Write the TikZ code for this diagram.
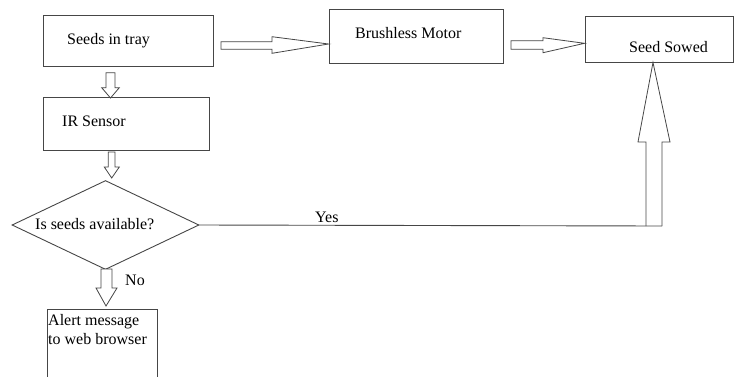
\documentclass[tikz,border=0pt]{standalone}
\usepackage{fontspec}
\setmainfont{Liberation Serif}
\usetikzlibrary{shapes.geometric,calc}
\definecolor{lc}{RGB}{70,70,70}
\begin{document}
\begin{tikzpicture}[x=1pt,y=-1pt,
  box/.style={draw=lc,line width=0.9pt,rectangle,inner sep=0pt},
  txt/.style={inner sep=0pt,anchor=west,font=\fontsize{16}{19}\selectfont,text=black},
  barrow/.style={draw=lc,line width=0.8pt,fill=white,line join=miter},
  conn/.style={draw=lc,line width=0.9pt}]
\useasboundingbox (0,0) rectangle (734,376);
\clip (0,0) rectangle (734,376);
% boxes
\node[box,minimum width=170pt,minimum height=51pt] (seeds) at (128,40.5) {};
\node[box,minimum width=166pt,minimum height=53pt] (ir) at (126,123.5) {};
\node[box,minimum width=174pt,minimum height=54pt] (motor) at (416,36) {};
\node[box,minimum width=148pt,minimum height=46pt] (sowed) at (659,39) {};
\node[box,minimum width=110pt,minimum height=81pt] (alert) at (102,349.5) {};
\node[draw=lc,line width=0.9pt,diamond,inner sep=0pt,minimum width=187pt,minimum height=89pt] (dec) at (105.5,225) {};
% texts
\node[txt] (tseeds) at (67,41) {Seeds in tray};
\node[txt] (tmotor) at (355,33) {Brushless Motor};
\node[txt] (tsowed) at (629,47) {Seed Sowed};
\node[txt] (tir) at (62,121) {IR Sensor};
\node[txt] (tdec) at (35,224) {Is seeds available?};
\node[txt] (tyes) at (315,217) {Yes};
\node[txt] (tno) at (125,280) {No};
\node[txt,align=left,anchor=north west] (talert) at (48,314) {Alert message\\to web browser};
% block arrows
\draw[barrow] (221,41.7) -- (272,41.7) -- (272,36.7) -- (motor.west |- 0,44) -- (272,53.3) -- (272,49.3) -- (221,49.3) -- cycle;
\draw[barrow] (511,40.7) -- (543,40.7) -- (543,37.7) -- (sowed.west |- 0,43.3) -- (543,52.7) -- (543,49.3) -- (511,49.3) -- cycle;
\draw[barrow] (106,72.7) -- (115,72.7) -- (115,87.7) -- (119.3,87.7) -- (110.5,98) -- (101.7,87.7) -- (106,87.7) -- cycle;
\draw[barrow] (108.3,152) -- (115,152) -- (115,167) -- (119.3,167) -- (111.7,178) -- (104.3,167) -- (108.3,167) -- cycle;
\draw[barrow] (101,269) -- (112,269) -- (112,288) -- (117,288) -- (106,306) -- (96,288) -- (101,288) -- cycle;
% yes connector
\coordinate (yend) at (662,226);
\draw[conn] (dec.east) -- (yend);
\draw[barrow,fill=none] (646,226) -- (646,142) -- (638,142) -- (sowed.south -| 653,0) -- (670,142) -- (662,142) -- (yend);
\end{tikzpicture}
\end{document}
